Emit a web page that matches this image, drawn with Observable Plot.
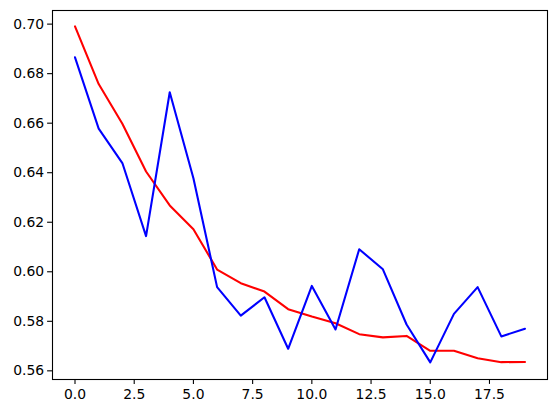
<!DOCTYPE html>
<html>
<head>
<meta charset="utf-8">
<script src="https://cdn.jsdelivr.net/npm/d3@7"></script>
<script src="https://cdn.jsdelivr.net/npm/@observablehq/plot@0.6"></script>
<style>
  html, body { margin: 0; padding: 0; background: #fff; }
  #chart { width: 556px; height: 413px; }
</style>
</head>
<body>
<div id="chart"></div>
<script>
const epochs = [0, 1, 2, 3, 4, 5, 6, 7, 8, 9, 10, 11, 12, 13, 14, 15, 16, 17, 18, 19];
const redSeries = [0.6991, 0.6758, 0.6598, 0.6405, 0.6268, 0.6172, 0.6009, 0.5954, 0.5920, 0.5849,
                   0.5819, 0.5792, 0.5748, 0.5735, 0.5741, 0.5681, 0.5681, 0.5651, 0.5635, 0.5636];
const blueSeries = [0.6866, 0.6578, 0.6439, 0.6144, 0.6725, 0.6378, 0.5938, 0.5823, 0.5897, 0.5689,
                    0.5943, 0.5767, 0.6091, 0.6010, 0.5787, 0.5634, 0.5830, 0.5938, 0.5739, 0.5770];
const xTicks = [0, 2.5, 5, 7.5, 10, 12.5, 15, 17.5];
const yTicks = [0.56, 0.58, 0.60, 0.62, 0.64, 0.66, 0.68, 0.70];

const red = epochs.map((e, i) => ({x: e, y: redSeries[i]}));
const blue = epochs.map((e, i) => ({x: e, y: blueSeries[i]}));

const font = "DejaVu Sans, sans-serif";
const chart = Plot.plot({
  width: 556,
  height: 413,
  marginLeft: 52,
  marginRight: 9,
  marginTop: 10,
  marginBottom: 34,
  style: {fontFamily: font, fontSize: "13.9px", color: "#000", background: "#fff"},
  x: {domain: [-0.95, 19.95], label: null},
  y: {domain: [0.5565, 0.7055], label: null},
  marks: [
    Plot.line(red, {x: "x", y: "y", stroke: "#ff0000", strokeWidth: 2.08}),
    Plot.line(blue, {x: "x", y: "y", stroke: "#0000ff", strokeWidth: 2.08}),
    Plot.frame({stroke: "#000", strokeWidth: 1.1}),
    Plot.axisX({ticks: xTicks, tickFormat: d3.format(".1f"), tickSize: 4.9, tickPadding: 5, label: null, fontSize: 13.9, stroke: "#000", strokeWidth: 1.1}),
    Plot.axisY({ticks: yTicks, tickFormat: d3.format(".2f"), tickSize: 4.9, tickPadding: 3.5, label: null, fontSize: 13.9, stroke: "#000", strokeWidth: 1.1})
  ]
});
document.getElementById("chart").appendChild(chart);
</script>
</body>
</html>
